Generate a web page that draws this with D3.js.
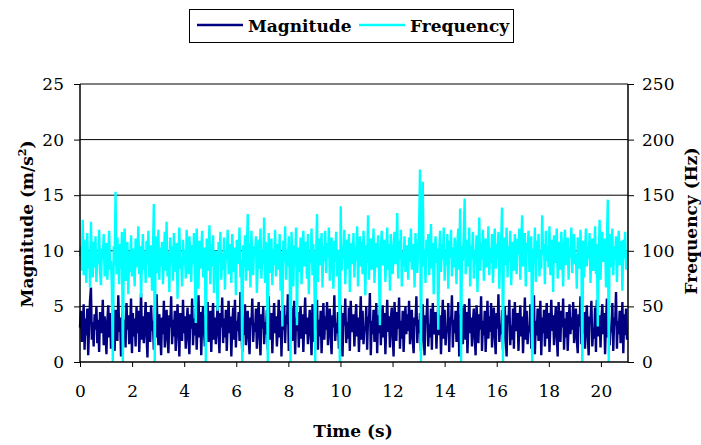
<!DOCTYPE html>
<html>
<head>
<meta charset="utf-8">
<script src="https://cdn.jsdelivr.net/npm/d3@7"></script>
<style>
  body { margin: 0; background: #fff; }
  svg { display: block; }
</style>
</head>
<body>
<svg id="chart" width="701" height="445"></svg>
<script>
// sampling step of the recording (s)
let sampleStep = 0.035

// frequency readings (Hz)
let frequency = [
  95,104,82,128,78,110,88,71,116,84,99,67,126,90,76,108,85,113,72,97,88,119,81,69,102,92,115,77,86,107,
  74,98,118,83,91,66,0,104,87,153,79,112,93,70,106,84,117,0,96,120,73,89,108,61,99,81,114,77,102,90,
  68,111,85,96,122,79,104,58,92,115,83,100,71,109,88,118,76,94,105,64,97,142,0,113,80,91,119,74,103,86,
  108,70,95,117,82,126,77,99,63,112,89,104,73,116,92,81,107,57,98,121,84,94,68,110,87,101,75,119,90,79,
  113,96,72,105,88,116,80,35,120,93,66,109,84,99,118,76,91,103,0,111,82,97,123,70,106,86,114,62,95,100,
  78,46,108,89,117,74,98,83,112,65,101,92,119,79,87,106,71,115,94,81,103,60,110,88,97,121,76,92,0,105,
  85,114,73,99,133,82,107,67,118,91,78,104,96,113,62,89,110,84,120,75,100,88,130,71,108,93,0,116,80,97,
  111,69,102,87,119,77,94,106,83,115,64,98,32,109,90,122,74,101,86,113,79,0,117,92,68,105,88,121,33,96,
  103,81,112,70,97,118,86,93,108,75,115,61,100,89,120,78,106,84,0,95,133,72,111,87,99,116,67,104,91,118,
  80,107,94,121,73,98,112,85,66,109,90,117,77,101,88,0,140,82,104,93,119,70,96,110,84,115,63,99,107,88,
  116,76,103,91,122,68,97,113,86,108,79,118,94,60,105,89,132,74,100,111,83,96,120,71,92,107,85,114,78,33,
  102,118,87,95,110,72,99,121,83,106,64,115,91,79,103,117,88,97,134,75,109,92,119,68,100,86,113,81,96,105,
  74,112,90,120,83,98,106,67,116,93,80,104,122,173,0,118,162,86,101,71,110,95,115,78,99,124,84,107,61,96,
  113,89,102,29,97,118,81,106,92,121,73,100,87,115,66,109,94,119,77,103,85,112,96,70,108,120,83,138,0,104,
  91,116,147,79,99,110,86,121,68,105,93,117,75,101,88,114,63,97,130,82,107,92,119,73,100,111,85,96,122,78,
  103,89,115,71,98,120,84,106,93,117,66,101,110,139,0,112,87,96,121,76,104,90,118,69,99,108,82,115,94,79,
  111,97,120,74,103,132,86,92,116,68,107,99,118,81,95,113,0,102,88,121,72,109,93,115,77,100,84,132,96,106,
  70,118,91,104,85,122,78,97,110,63,114,89,101,120,75,96,108,83,117,92,68,105,119,87,99,112,74,103,94,121,
  80,107,115,88,97,66,112,101,84,119,91,0,109,76,98,120,86,104,93,116,71,100,111,82,95,122,79,106,32,89,
  128,74,103,117,90,98,111,67,108,146,0,115,85,99,120,78,104,92,113,72,101,118,87,96,109,64,110,93,117,83,
  100
]

// acceleration magnitude (m/s2)
let magnitude = [
  3.1,4.6,1.8,2.7,5.2,1.1,3.9,2.4,4.8,0.6,3.3,5.5,6.7,2.0,3.6,1.4,4.3,2.9,5.0,1.7,3.8,0.9,4.5,2.6,3.2,5.6,1.5,4.1,2.8,0.7,
  3.7,5.1,2.2,4.4,1.2,3.0,5.8,2.5,1.0,4.7,3.4,1.9,6.0,2.7,4.0,0.5,3.5,4.9,2.1,3.8,1.3,5.3,2.9,4.2,1.6,3.1,5.7,0.8,4.4,2.3,
  3.9,1.4,5.0,2.6,4.6,0.9,3.3,6.2,2.0,4.1,1.7,3.6,5.4,2.4,0.4,4.5,3.0,1.8,5.1,2.8,3.7,1.1,4.8,2.2,6.1,3.4,1.5,4.3,2.7,0.6,
  4.0,2.5,5.5,1.3,3.5,4.7,2.0,0.8,4.2,3.1,5.9,1.6,3.8,2.3,4.6,1.0,3.2,5.2,2.8,0.5,4.4,3.6,1.9,5.6,2.6,4.1,1.2,3.4,4.9,2.1,
  0.7,4.3,3.0,5.7,1.5,3.9,2.4,4.8,1.1,3.3,6.0,2.2,4.5,0.6,3.7,5.0,2.9,1.4,4.2,3.5,5.4,1.8,2.7,4.6,0.9,3.8,5.3,2.0,4.0,1.6,
  3.6,5.1,2.5,0.8,4.4,3.1,5.8,1.7,3.9,2.2,4.7,1.0,3.4,5.5,2.6,4.1,0.5,3.2,4.9,2.0,5.6,1.3,3.7,2.8,4.5,1.9,6.3,3.0,0.9,4.2,
  2.4,5.2,1.5,3.8,4.6,2.1,0.7,4.0,3.3,5.7,1.8,3.5,2.7,4.8,1.2,3.9,5.4,2.3,0.6,4.3,3.0,5.0,1.6,3.6,2.5,4.7,1.1,5.9,3.2,2.0,
  4.4,0.8,3.7,5.3,2.6,4.1,1.4,3.1,5.6,2.2,4.6,0.5,3.8,2.9,5.1,1.7,4.2,3.4,6.1,1.0,3.6,2.4,4.9,1.9,3.3,5.5,0.7,4.0,2.8,4.5,
  1.3,3.9,5.0,2.1,4.3,0.9,3.5,5.8,2.5,4.0,1.6,3.2,4.7,2.7,0.6,5.2,3.6,1.8,4.4,3.0,5.6,1.1,3.8,2.3,4.6,0.8,3.4,5.3,2.0,4.1,
  2.9,5.4,1.5,3.7,4.8,2.2,0.7,4.2,3.1,6.0,1.9,3.5,2.6,4.5,1.2,3.9,5.1,2.4,0.5,4.4,3.3,5.7,1.7,3.6,2.1,4.9,1.0,5.5,3.0,2.7,
  4.3,1.4,3.8,5.2,2.3,4.0,0.9,3.4,5.9,2.0,4.6,1.6,3.1,2.8,5.0,1.1,4.1,3.5,6.2,0.6,3.7,2.5,4.7,1.8,3.2,5.3,0.8,4.2,2.6,4.8,
  1.5,3.6,5.1,2.2,4.4,0.7,3.3,5.6,2.7,4.1,1.3,3.9,4.9,2.4,0.5,5.4,3.5,1.9,4.5,3.0,5.8,1.2,3.7,2.1,4.6,0.9,3.2,5.0,2.5,4.3,
  2.8,5.5,1.6,3.5,4.7,2.0,0.8,4.0,3.3,5.9,1.7,3.8,2.6,4.4,1.0,3.1,5.2,2.3,0.6,4.2,3.6,5.7,1.4,3.4,2.2,4.8,1.1,5.3,2.9,2.5,
  4.5,1.2,3.7,5.0,2.4,4.2,0.7,3.5,5.6,2.1,4.7,1.5,3.0,2.7,5.3,0.9,4.0,3.4,6.0,1.3,3.8,2.6,4.6,1.8,3.1,5.4,0.5,4.3,2.3,4.9,
  1.6,3.9,5.2,2.0,4.5,0.8,3.2,5.7,2.6,4.0,1.4,3.6,4.8,2.2,0.6,5.1,3.5,1.7,4.3,2.9,5.9,1.0,3.7,2.4,4.6,0.9,3.3,5.5,2.1,4.1,
  2.7,5.3,1.3,3.8,4.9,2.3,0.7,4.4,3.0,6.1,1.8,3.4,2.5,4.7,1.1,3.9,5.0,2.2,0.5,4.2,3.6,5.6,1.5,3.3,2.0,4.8,1.2,5.4,3.1,2.8,
  4.4,1.0,3.6,5.1,2.3,4.1,0.8,3.4,5.8,2.0,4.6,1.6,3.2,2.7,5.2,1.2,4.3,3.5,6.0,0.7,3.7,2.4,4.8,1.9,3.0,5.5,0.6,4.0,2.6,4.7,
  1.4,3.8,5.3,2.1,4.4,0.9,3.3,5.6,2.8,4.2,1.5,3.7,5.0,2.3,0.5,5.4,3.4,1.8,4.6,3.1,5.7,1.1,3.9,2.2,4.5,1.0,3.2,5.2,2.5,4.0,
  2.9,5.4,1.7,3.5,4.8,2.0,0.8,4.3,3.2,5.9,1.6,3.6,2.6,4.5,1.2,3.8,5.1,2.4,0.6,4.1,3.5,5.5,1.4,3.0,2.1,4.9,0.9,5.6,2.8,2.3,
  4.2,1.3,3.9,5.2,2.5,4.4,0.7,3.6,5.7,2.2,4.7,1.5,3.1,2.7,5.3,1.0,4.0,3.3,6.3,1.2,3.7,2.5,4.6,1.7,3.4,5.4,0.8,4.3,2.4,4.8,
  2.0
]

let timeTicks = [0, 2, 4, 6, 8, 10, 12, 14, 16, 18, 20]
let magTicks = [0, 5, 10, 15, 20, 25]
let freqTicks = [0, 50, 100, 150, 200, 250]

let serif = "'DejaVu Serif', 'Liberation Serif', serif"

let svg = d3.select('#chart')

let plotLeft = 80, plotRight = 628, plotTop = 84, plotBottom = 362

let x = d3.scaleLinear().domain([0, 21.04]).range([plotLeft, plotRight])
let yMag = d3.scaleLinear().domain([0, 25]).range([plotBottom, plotTop])
let yFreq = d3.scaleLinear().domain([0, 250]).range([plotBottom, plotTop])

let times = magnitude.map((v, i) => i * sampleStep)

// gridlines
svg.append('g')
  .selectAll('line')
  .data(magTicks.slice(1))
  .enter()
  .append('line')
  .attr('x1', plotLeft).attr('x2', plotRight)
  .attr('y1', d => yMag(d)).attr('y2', d => yMag(d))
  .style('stroke', '#000')
  .style('stroke-width', 1)

// series
let magLine = d3.line()
  .x((d, i) => x(times[i]))
  .y(d => yMag(d))

let freqLine = d3.line()
  .x((d, i) => x(times[i]))
  .y(d => yFreq(d))

svg.append('path')
  .datum(magnitude)
  .attr('d', magLine)
  .style('fill', 'none')
  .style('stroke', '#000080')
  .style('stroke-width', 2.4)

svg.append('path')
  .datum(frequency)
  .attr('d', freqLine)
  .style('fill', 'none')
  .style('stroke', '#00FFFF')
  .style('stroke-width', 2.4)

// axes
let axisLeft = d3.axisLeft(yMag).tickValues(magTicks).tickSize(6).tickPadding(10)
let axisRight = d3.axisRight(yFreq).tickValues(freqTicks).tickSize(6).tickPadding(8)
let axisBottom = d3.axisBottom(x).tickValues(timeTicks).tickSize(5).tickPadding(18)

let styleAxis = (g) => {
  g.select('.domain').remove()
  g.selectAll('line').style('stroke', '#000')
  g.selectAll('text')
    .style('font-family', serif)
    .style('font-size', '17px')
    .style('fill', '#000')
}

svg.append('g').attr('transform', 'translate(' + plotLeft + ',0)').call(axisLeft).call(styleAxis)
svg.append('g').attr('transform', 'translate(' + plotRight + ',0)').call(axisRight).call(styleAxis)
svg.append('g').attr('transform', 'translate(0,' + plotBottom + ')').call(axisBottom).call(styleAxis)

// axis lines
svg.append('line').attr('x1', plotLeft).attr('x2', plotLeft).attr('y1', plotTop).attr('y2', plotBottom)
  .style('stroke', '#000').style('stroke-width', 1.5)
svg.append('line').attr('x1', plotRight).attr('x2', plotRight).attr('y1', plotTop).attr('y2', plotBottom)
  .style('stroke', '#000').style('stroke-width', 1.5)
svg.append('line').attr('x1', plotLeft).attr('x2', plotRight).attr('y1', plotBottom).attr('y2', plotBottom)
  .style('stroke', '#000').style('stroke-width', 1.5)

// axis titles
svg.append('text')
  .attr('x', 353).attr('y', 437)
  .attr('text-anchor', 'middle')
  .style('font-family', serif)
  .style('font-size', '17px').style('font-weight', 'bold')
  .text('Time (s)')

let magTitle = svg.append('text')
  .attr('transform', 'translate(33,224) rotate(-90)')
  .attr('text-anchor', 'middle')
  .style('font-family', serif)
  .style('font-size', '17px').style('font-weight', 'bold')
magTitle.append('tspan').text('Magnitude (m/s')
magTitle.append('tspan').attr('dy', -7).style('font-size', '11px').text('2')
magTitle.append('tspan').attr('dy', 7).text(')')

svg.append('text')
  .attr('transform', 'translate(697,221) rotate(-90)')
  .attr('text-anchor', 'middle')
  .style('font-family', serif)
  .style('font-size', '17px').style('font-weight', 'bold')
  .text('Frequency (Hz)')

// legend
let legend = svg.append('g')
legend.append('rect')
  .attr('x', 189.5).attr('y', 9.5).attr('width', 324).attr('height', 33)
  .style('fill', '#fff').style('stroke', '#000').style('stroke-width', 1)

let legendItems = [
  {name: 'Magnitude', color: '#000080', x: 197},
  {name: 'Frequency', color: '#00FFFF', x: 359}
]
legendItems.forEach((item) => {
  legend.append('line')
    .attr('x1', item.x).attr('x2', item.x + 46)
    .attr('y1', 25).attr('y2', 25)
    .style('stroke', item.color).style('stroke-width', 2.5)
  legend.append('text')
    .attr('x', item.x + 51).attr('y', 32)
    .style('font-family', serif)
    .style('font-size', '17px').style('font-weight', 'bold')
    .text(item.name)
})
</script>
</body>
</html>
